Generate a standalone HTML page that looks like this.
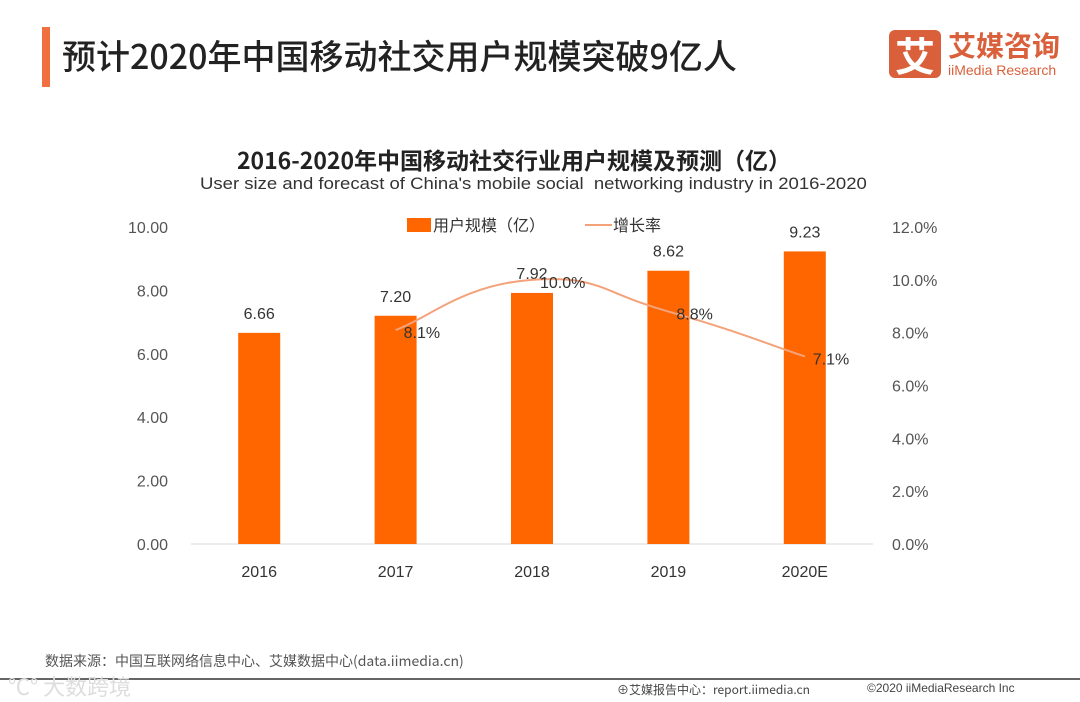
<!DOCTYPE html>
<html><head><meta charset="utf-8"><style>
body{margin:0;width:1080px;height:702px;background:#fff;overflow:hidden;font-family:"Liberation Sans","Noto Sans CJK SC",sans-serif;position:relative}
.abs{position:absolute;white-space:nowrap}
</style></head><body>
<div class="abs" style="left:42px;top:27px;width:8px;height:60px;background:#f07040"></div>
<div class="abs" style="left:62px;top:30px;font-size:34px;color:#222;font-weight:500;font-family:'Noto Sans CJK SC',sans-serif">预计2020年中国移动社交用户规模突破9亿人</div>
<div class="abs" style="left:889px;top:30px;width:52px;height:48px;background:#d9603a;border-radius:6px;color:#fff;font-size:40px;font-weight:bold;line-height:48px;text-align:center;font-family:'Noto Sans CJK SC',sans-serif">艾</div>
<div class="abs" style="left:948px;top:28px;font-size:28px;font-weight:bold;color:#d9603a;font-family:'Noto Sans CJK SC',sans-serif;line-height:34px">艾媒咨询</div>
<div class="abs" style="left:948px;top:62px;font-size:14px;color:#d9603a">iiMedia Research</div>
<div class="abs" style="left:0;width:1028px;text-align:center;top:143px;font-size:23px;font-weight:bold;color:#222;font-family:'Noto Sans CJK SC',sans-serif;line-height:32px">2016-2020年中国移动社交行业用户规模及预测（亿）</div>
<div class="abs" style="left:200px;top:174px;font-size:17px;color:#333;transform:scaleX(1.09);transform-origin:left">User size and forecast of China's mobile social &nbsp;networking industry in 2016-2020</div>
<svg id="chart" class="abs" style="left:0;top:0" width="1080" height="640"></svg>
<div class="abs" style="left:45px;top:651px;font-size:14px;color:#555;font-family:'Noto Sans CJK SC',sans-serif">数据来源：中国互联网络信息中心、艾媒数据中心(data.iimedia.cn)</div>
<div class="abs" style="left:0;top:678px;width:1080px;height:2px;background:#666"></div>
<div class="abs" style="left:8px;top:670px;font-size:22px;color:#ddd;font-family:'Noto Sans CJK SC',sans-serif">℃° 大数跨境</div>
<div class="abs" style="left:617px;top:681px;font-size:12px;color:#444;font-family:'Noto Sans CJK SC',sans-serif">⊕艾媒报告中心：report.iimedia.cn</div>
<div class="abs" style="left:867px;top:681px;font-size:12px;color:#444">©2020 iiMediaResearch Inc</div>
<script>
const categories=["2016","2017","2018","2019","2020E"];
const users=[6.66,7.20,7.92,8.62,9.23];
const growth=[null,8.1,10.0,8.8,7.1];
const leftTicks=["0.00","2.00","4.00","6.00","8.00","10.00"];
const rightTicks=["0.0%","2.0%","4.0%","6.0%","8.0%","10.0%","12.0%"];
const svg=document.getElementById('chart');const NS='http://www.w3.org/2000/svg';
const x0=191,x1=873,yb=544,yt=227;
const yL=v=>yb-(v/10)*(yb-yt);
const yR=v=>yb-(v/12)*(yb-yt);
const step=(x1-x0)/categories.length;
const xc=i=>x0+step*(i+0.5);
function el(t,a,txt){const e=document.createElementNS(NS,t);for(const k in a)e.setAttribute(k,a[k]);if(txt!==undefined)e.textContent=txt;svg.appendChild(e);return e;}
const ax=el('line',{x1:x0,x2:x1,y1:yb,y2:yb,stroke:'#d9d9d9'});


leftTicks.forEach(t=>{const e=el('text',{x:168,y:yL(+t)+6,'text-anchor':'end','font-size':16,fill:'#555'},t);

});
rightTicks.forEach(t=>{const e=el('text',{x:892,y:yR(parseFloat(t))+6,'font-size':16,fill:'#555'},t);

});
categories.forEach((c,i)=>{
const b=el('rect',{x:xc(i)-21,y:yL(users[i]),width:42,height:yb-yL(users[i]),fill:'#ff6600'});


const v=el('text',{x:xc(i),y:yL(users[i])-14,'text-anchor':'middle','font-size':16,fill:'#333'},users[i].toFixed(2));


const l=el('text',{x:xc(i),y:577,'text-anchor':'middle','font-size':16,fill:'#333'},c);

});
const pts=[];growth.forEach((g,i)=>{if(g!==null)pts.push([xc(i),yR(g)]);});
let d='M'+pts[0][0]+','+pts[0][1];
for(let i=0;i<pts.length-1;i++){const p0=pts[i-1]||pts[i],p1=pts[i],p2=pts[i+1],p3=pts[i+2]||p2;
d+=` C${p1[0]+(p2[0]-p0[0])/4},${p1[1]+(p2[1]-p0[1])/4} ${p2[0]-(p3[0]-p1[0])/4},${p2[1]-(p3[1]-p1[1])/4} ${p2[0]},${p2[1]}`;}
const ln=el('path',{d:d,fill:'none',stroke:'#f4a27a','stroke-width':2});


growth.forEach((g,i)=>{if(g===null)return;const t=el('text',{x:xc(i)+8,y:yR(g)+8,'font-size':16,fill:'#333'},g.toFixed(1)+'%');

});
const lg1=el('rect',{x:407,y:218,width:24,height:14,fill:'#ff6600'});


const lt1=el('text',{x:433,y:231,'font-size':16,fill:'#333'},'用户规模（亿）');


const lg2=el('line',{x1:585,x2:612,y1:225,y2:225,stroke:'#f4a27a','stroke-width':2});


const lt2=el('text',{x:613,y:231,'font-size':16,fill:'#333'},'增长率');


</script>
</body></html>
